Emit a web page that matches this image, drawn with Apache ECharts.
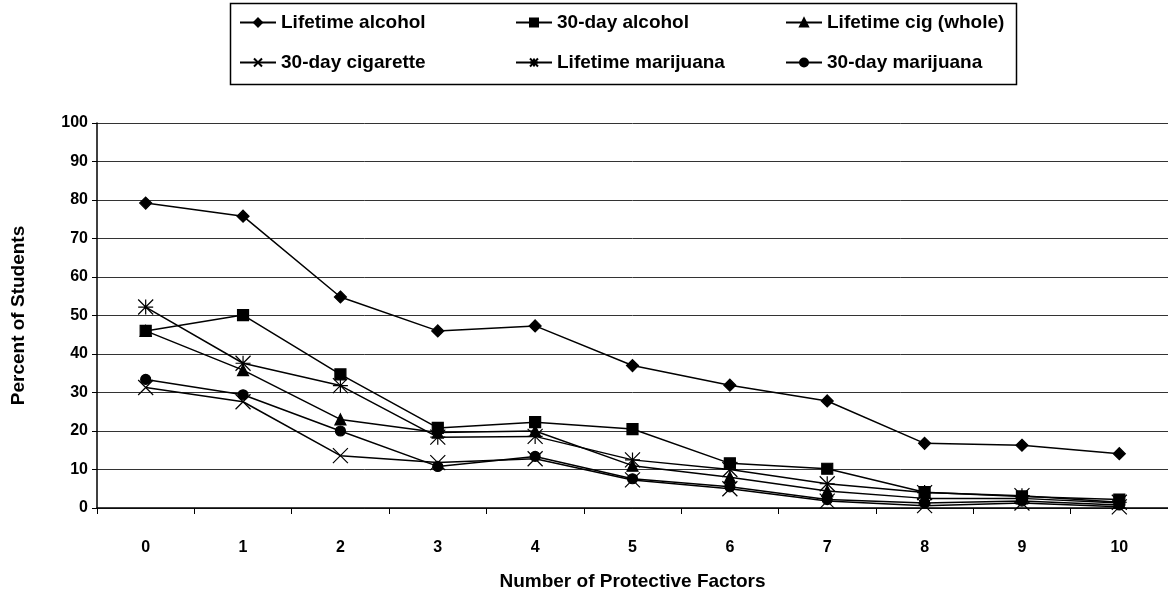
<!DOCTYPE html>
<html>
<head>
<meta charset="utf-8">
<script src="https://cdn.jsdelivr.net/npm/echarts@6/dist/echarts.min.js"></script>
<style>
  html, body { margin: 0; padding: 0; background: #fff; }
  #container { width: 1168px; height: 596px; }
</style>
</head>
<body>
<div id="container"></div>
<script>
var factors = ['0', '1', '2', '3', '4', '5', '6', '7', '8', '9', '10'];

var lifetimeAlcohol = [79.2, 75.8, 54.8, 46.0, 47.3, 37.0, 31.9, 27.8, 16.8, 16.3, 14.1];
var day30Alcohol = [46.0, 50.1, 34.7, 20.8, 22.3, 20.5, 11.6, 10.2, 4.1, 3.0, 2.2];
var lifetimeCig = [46.0, 35.8, 23.0, 19.6, 20.0, 11.0, 8.0, 4.4, 2.5, 2.5, 1.3];
var day30Cigarette = [31.3, 27.6, 13.6, 11.8, 12.8, 7.3, 5.0, 1.8, 0.6, 1.3, 0.3];
var lifetimeMarijuana = [52.2, 37.6, 31.8, 18.4, 18.6, 12.5, 10.0, 6.3, 4.0, 3.2, 1.5];
var day30Marijuana = [33.4, 29.4, 20.0, 10.8, 13.4, 7.6, 5.5, 2.2, 1.3, 1.8, 0.8];

var FONT = '"Liberation Sans", Arial, sans-serif';
var xSymbol = 'path://M0,0L10,10M10,0L0,10';
var starSymbol = 'path://M0,0L10,10M10,0L0,10M5,0L5,10M0,5L10,5';

var myChart = echarts.init(document.getElementById('container'));

function makeSeries(name, data, symbol, size) {
    return {
        name: name,
        type: 'line',
        data: data,
        symbol: symbol,
        symbolSize: size,
        showAllSymbol: true,
        animation: false,
        lineStyle: { color: '#000', width: 1.5 },
        itemStyle: { color: '#000', borderColor: '#000', borderWidth: 1.2 },
        emphasis: { disabled: true }
    };
}

var legendText = { fontFamily: FONT, fontWeight: 'bold', fontSize: 19, color: '#000' };

function makeLegend(left, names) {
    return {
        data: names,
        orient: 'vertical',
        left: left,
        top: 8,
        itemWidth: 36,
        itemHeight: 10,
        itemGap: 21,
        textStyle: legendText,
        selectedMode: false
    };
}

option = {
    backgroundColor: '#fff',
    legend: [
        makeLegend(234, ['Lifetime alcohol', '30-day cigarette']),
        makeLegend(510, ['30-day alcohol', 'Lifetime marijuana']),
        makeLegend(780, ['Lifetime cig (whole)', '30-day marijuana'])
    ],
    graphic: [{
        type: 'rect',
        shape: { x: 230.5, y: 3.5, width: 786, height: 81 },
        style: { fill: 'none', stroke: '#000', lineWidth: 1.5 },
        z: -1
    }],
    grid: {
        left: 97,
        top: 123,
        width: 1075,
        height: 389,
        containLabel: false
    },
    xAxis: {
        type: 'category',
        data: factors,
        boundaryGap: true,
        name: 'Number of Protective Factors',
        nameLocation: 'middle',
        nameGap: 64,
        nameTextStyle: { fontFamily: FONT, fontWeight: 'bold', fontSize: 19, color: '#000' },
        axisLine: { lineStyle: { color: '#000', width: 1.5 } },
        axisTick: { show: true, inside: false, length: 6, alignWithLabel: false, lineStyle: { color: '#000' } },
        axisLabel: { fontFamily: FONT, fontWeight: 'bold', fontSize: 16, color: '#000', margin: 32 },
        splitLine: { show: false }
    },
    yAxis: {
        type: 'value',
        min: 0,
        max: 100,
        interval: 10,
        name: 'Percent of Students',
        nameLocation: 'middle',
        nameGap: 69,
        nameRotate: 90,
        nameTextStyle: { fontFamily: FONT, fontWeight: 'bold', fontSize: 19, color: '#000' },
        axisLine: { show: true, lineStyle: { color: '#000', width: 1.5 } },
        axisTick: { show: true, inside: false, length: 5, lineStyle: { color: '#000' } },
        axisLabel: { fontFamily: FONT, fontWeight: 'bold', fontSize: 16, color: '#000', margin: 9 },
        splitLine: { show: true, lineStyle: { color: '#333', width: 1 } }
    },
    series: [
        makeSeries('Lifetime alcohol', lifetimeAlcohol, 'diamond', 12),
        makeSeries('30-day alcohol', day30Alcohol, 'rect', 11),
        makeSeries('Lifetime cig (whole)', lifetimeCig, 'triangle', 11),
        makeSeries('30-day cigarette', day30Cigarette, xSymbol, 15),
        makeSeries('Lifetime marijuana', lifetimeMarijuana, starSymbol, 15),
        makeSeries('30-day marijuana', day30Marijuana, 'circle', 10)
    ]
};

myChart.setOption(option);
</script>
</body>
</html>
